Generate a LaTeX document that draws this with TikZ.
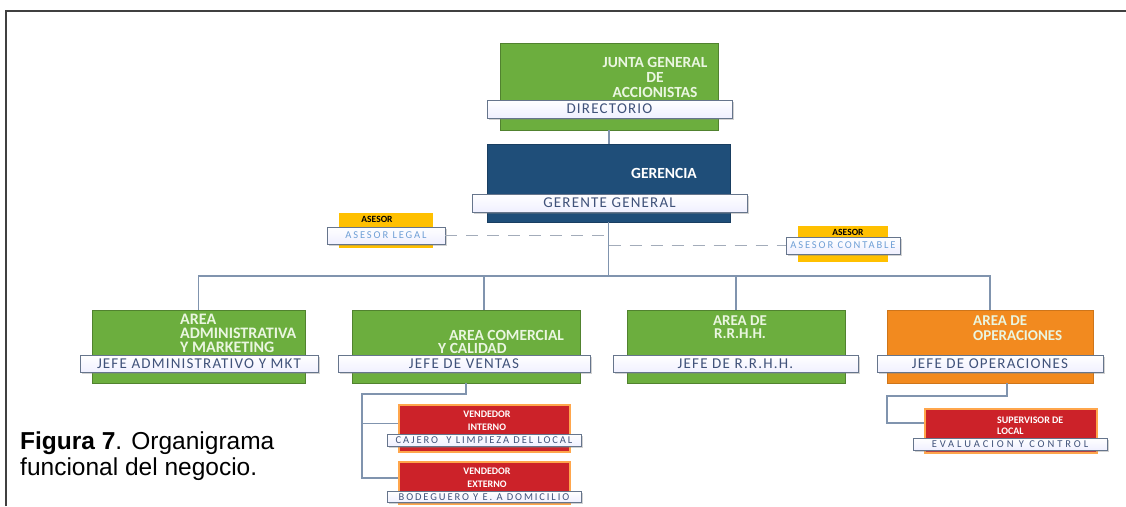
\documentclass[tikz,border=0pt]{standalone}
\usepackage{fontspec}
\usetikzlibrary{shadows}
\newfontfamily\calf{Carlito}
\newfontfamily\calsp[LetterSpace=8]{Carlito}
\newfontfamily\calss[LetterSpace=18]{Carlito}
\newfontfamily\calsw[LetterSpace=28]{Carlito}
\newfontfamily\arialf{Liberation Sans}
\definecolor{gr}{HTML}{6CAE3E}
\definecolor{grtxt}{HTML}{EAF6E0}
\definecolor{dblue}{HTML}{1F4E79}
\definecolor{orng}{HTML}{F28A1F}
\definecolor{redb}{HTML}{CC2229}
\definecolor{yel}{HTML}{FFC000}
\definecolor{barb}{HTML}{66758C}
\definecolor{bartxt}{HTML}{40527A}
\definecolor{lbtxt}{HTML}{6F9FD6}
\definecolor{lnk}{HTML}{8094AE}
\definecolor{dsh}{HTML}{A3ACBA}
\tikzset{
  boxg/.style={fill=gr, draw=gr!75!black, line width=0.6, inner sep=0},
  boxb/.style={fill=dblue, draw=dblue!80!black, line width=0.6, inner sep=0},
  boxo/.style={fill=orng, draw=orng!85!black, line width=0.6, inner sep=0},
  boxr/.style={fill=redb, draw=orange!70, line width=1.2, inner sep=0},
  boxy/.style={fill=yel, draw=none, inner sep=0},
  bar/.style={top color=white, bottom color=blue!6, draw=barb, line width=1, inner sep=0,
     drop shadow={shadow xshift=1.5pt, shadow yshift=-1.5pt, opacity=0.35},
     font=\calsp\fontsize{15}{15}\selectfont, text=bartxt},
  sbar/.style={bar, line width=0.8, font=\calss\fontsize{10.5}{10}\selectfont},
  head/.style={font=\calf\bfseries\fontsize{15.5}{15}\selectfont, text=grtxt, inner sep=0, align=center},
  shead/.style={font=\calf\bfseries\fontsize{10}{13}\selectfont, text=white, inner sep=0, align=center},
  link/.style={draw=lnk, line width=1.2},
  dlink/.style={draw=dsh, line width=1.6, dash pattern=on 12pt off 9pt},
  capt/.style={font=\arialf\fontsize{24.5}{27}\selectfont, inner sep=0, anchor=base west}
}
\begin{document}
\begin{tikzpicture}[x=1pt,y=-1pt]
\useasboundingbox[fill=white] (0,0) rectangle (1126,506);
% frame
\draw[line width=2, color=black!75] (6,506) -- (6,11) -- (1126,11);

% Junta
\node[boxg, minimum width=218, minimum height=87] (junta) at (609,86.5) {};
\node[head] (juntat) at (655,77) {JUNTA GENERAL\\DE\\ACCIONISTAS};
\node[bar, minimum width=245, minimum height=18] (dir) at (609.5,109) {DIRECTORIO};

% Gerencia
\node[boxb, minimum width=243, minimum height=78] (ger) at (608.5,183) {};
\node[head, text=white] (gert) at (664,173) {GERENCIA};
\node[bar, minimum width=275, minimum height=18] (gg) at (609.5,203) {GERENTE GENERAL};
\draw[link] (junta.south) -- (junta.south |- ger.north);

% Asesores
\node[boxy, minimum width=94, minimum height=35] (ay1) at (386,230.5) {};
\node[font=\calf\bfseries\fontsize{9.5}{10}\selectfont, inner sep=0] (ay1t) at (377,219) {ASESOR};
\node[sbar, text=lbtxt, minimum width=118, minimum height=17] (leg) at (386,235.5) {ASESOR LEGAL};
\node[boxy, minimum width=90, minimum height=36] (ay2) at (843,244) {};
\node[font=\calf\bfseries\fontsize{9.5}{10}\selectfont, inner sep=0] (ay2t) at (848,232) {ASESOR};
\node[sbar, text=lbtxt, minimum width=114, minimum height=17] (cont) at (843,245.5) {ASESOR CONTABLE};

% trunk and bus
\coordinate (bus) at (608.5,276);
\draw[link] (ger.south) -- (bus);
\draw[dlink] (leg.east) -- (leg.east -| ger.south);
\draw[dlink] (cont.west -| ger.south) -- (cont.west);

% Areas
\node[boxg, minimum width=213, minimum height=73] (adm) at (198.5,346.5) {};
\node[boxg, minimum width=228, minimum height=73] (com) at (466,346.5) {};
\node[boxg, minimum width=218, minimum height=73] (rrhh) at (736,346.5) {};
\node[boxo, minimum width=206, minimum height=73] (ope) at (990,346.5) {};

\draw[link] (adm.north) |- (bus) -| (ope.north);
\draw[link] (com.north -| 484,0) -- (bus -| 484,0);
\draw[link] (rrhh.north) -- (rrhh.north |- bus);

\node[head, align=left, anchor=west, font=\calf\bfseries\fontsize{16}{14}\selectfont] (admt) at (180,333.5) {AREA\\ADMINISTRATIVA\\Y MARKETING};
\node[head, font=\calf\bfseries\fontsize{15.5}{14}\selectfont] (comt1) at (506.5,335) {AREA COMERCIAL};
\node[head, anchor=west, font=\calf\bfseries\fontsize{15.5}{14}\selectfont] (comt2) at (438,348.5) {Y CALIDAD};
\node[head, font=\calf\bfseries\fontsize{15}{13}\selectfont] (rrhht) at (740,327.5) {AREA DE\\R.R.H.H.};
\node[head, align=left, anchor=west, font=\calf\bfseries\fontsize{15}{15}\selectfont] (opet) at (973,328.5) {AREA DE\\OPERACIONES};

\node[bar, minimum width=238, minimum height=17] (jadm) at (199,364) {JEFE ADMINISTRATIVO Y MKT};
\node[bar, minimum width=252, minimum height=17] (jcom) at (464,364) {JEFE DE VENTAS};
\node[bar, minimum width=245, minimum height=17] (jrrhh) at (735.5,364) {JEFE DE R.R.H.H.};
\node[bar, minimum width=226, minimum height=17] (jope) at (990,364) {JEFE DE OPERACIONES};

% Sub boxes comercial
\node[boxr, minimum width=171, minimum height=47] (vint) at (484.5,428.5) {};
\node[shead] (vintt) at (487,420.5) {VENDEDOR\\INTERNO};
\node[sbar, minimum width=194, minimum height=12] (cajero) at (484,440) {CAJERO\ \ Y LIMPIEZA DEL LOCAL};
\node[boxr, minimum width=171, minimum height=42] (vext) at (484.5,483) {};
\node[shead] (vextt) at (487,478) {VENDEDOR\\EXTERNO};
\node[sbar, minimum width=194, minimum height=11] (bodeg) at (484,497) {BODEGUERO Y E. A DOMICILIO};
\coordinate (c1) at (466,394);
\coordinate (c2) at (362,394);
\draw[link] (com.south -| c1) -- (c1) -- (c2) |- ([yshift=5pt]vint.west);
\draw[link] (c2) |- ([yshift=5pt]vext.west);

% Sub box operaciones
\node[boxr, minimum width=172, minimum height=44] (sup) at (1011,431) {};
\node[shead, align=left, anchor=west, font=\calf\bfseries\fontsize{10}{11.5}\selectfont] (supt) at (997,425.5) {SUPERVISOR DE\\LOCAL};
\node[sbar, minimum width=194, minimum height=12, font=\calsw\fontsize{10.5}{10}\selectfont] (eval) at (1010,444) {EVALUACION Y CONTROL};
\coordinate (c3) at (1007,396);
\coordinate (c4) at (887,396);
\draw[link] (ope.south -| c3) -- (c3) -- (c4) |- ([yshift=8pt]sup.west);

% caption
\node[capt] (cap1) at (20,449) {\textbf{Figura 7}. Organigrama};
\node[capt] (cap2) at (20,475) {funcional del negocio.};
\end{tikzpicture}
\end{document}
